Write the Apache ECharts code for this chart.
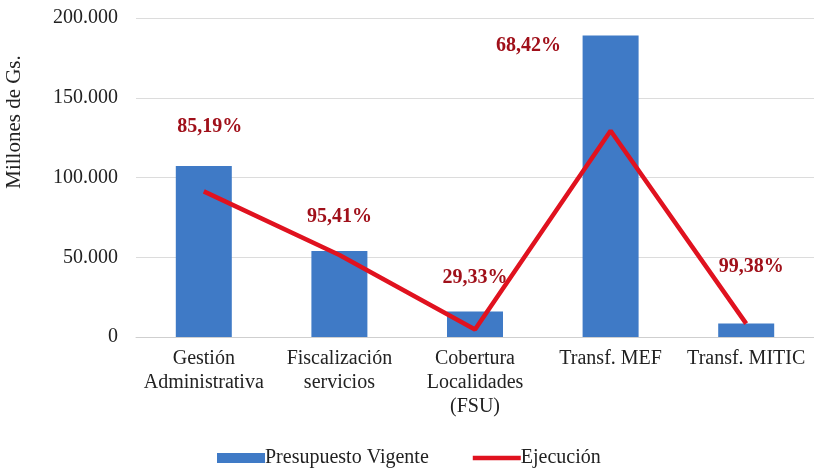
<!DOCTYPE html>
<html>
<head>
<meta charset="utf-8">
<script src="https://cdn.jsdelivr.net/npm/echarts@6/dist/echarts.min.js"></script>
<style>
  html, body { margin: 0; padding: 0; background: #fff; }
  #chart { width: 814px; height: 475px; }
</style>
</head>
<body>
<div id="chart"></div>
<script>
// categorias y valores (millones de Gs.)
var categorias = ['Gestión\nAdministrativa', 'Fiscalización\nservicios', 'Cobertura\nLocalidades\n(FSU)', 'Transf. MEF', 'Transf. MITIC'];
var presupuesto = [107200, 53900, 16000, 189000, 8500];
var ejecucion = [91300, 51400, 4700, 129300, 8400];
var porcentajes = ['85,19%', '95,41%', '29,33%', '68,42%', '99,38%'];
var ticksY = [0, 50000, 100000, 150000, 200000];

// desplazamiento de cada etiqueta respecto al punto de la linea
var desplazamientos = [[6, -65], [0, -38], [0, -52], [-82, -85], [5, -57]];

var fuente = 'Liberation Serif';

var myChart = echarts.init(document.getElementById('chart'));

// etiquetas de porcentaje, ancladas a los puntos de ejecucion
var datosEtiquetas = ejecucion.map(function (v, i) {
    return {
        value: v,
        label: { offset: desplazamientos[i], formatter: porcentajes[i] }
    };
});

var option = {
    animation: false,
    grid: { left: 136, top: 18, width: 680, height: 319 },
    graphic: [{
        type: 'text',
        x: 14,
        y: 122,
        rotation: Math.PI / 2,
        style: {
            text: 'Millones de Gs.',
            font: '21px "Liberation Serif"',
            fill: '#222',
            align: 'center',
            verticalAlign: 'middle'
        }
    }],
    legend: {
        bottom: 2,
        left: 212,
        itemGap: 44,
        itemWidth: 48,
        itemHeight: 10,
        symbolKeepAspect: true,
        textStyle: { fontFamily: fuente, fontSize: 20, color: '#222', padding: [0, 0, 0, -5] },
        data: [
            { name: 'Presupuesto Vigente', icon: 'rect' },
            { name: 'Ejecución', icon: 'path://M0,0H48V4.5H0Z' }
        ]
    },
    xAxis: {
        type: 'category',
        data: categorias,
        axisTick: { show: false },
        axisLine: { lineStyle: { color: '#cfcfcf', width: 1 } },
        axisLabel: {
            fontFamily: fuente,
            fontSize: 20,
            color: '#222',
            lineHeight: 24,
            margin: 10,
            interval: 0
        }
    },
    yAxis: {
        type: 'value',
        min: 0,
        max: 200000,
        interval: 50000,
        axisLine: { show: false },
        axisTick: { show: false },
        splitLine: { lineStyle: { color: '#dcdcdc', width: 1 } },
        axisLabel: {
            fontFamily: fuente,
            fontSize: 20,
            color: '#222',
            margin: 18,
            formatter: function (v) {
                if (ticksY.indexOf(v) < 0) return '';
                return v === 0 ? '0' : (v / 1000).toFixed(0) + '.000';
            }
        }
    },
    series: [
        {
            name: 'Presupuesto Vigente',
            type: 'bar',
            barWidth: 56,
            data: presupuesto,
            itemStyle: { color: '#3f7ac6' }
        },
        {
            name: 'Ejecución',
            type: 'line',
            data: ejecucion,
            symbol: 'none',
            lineStyle: { color: '#e0121f', width: 4.5 },
            itemStyle: { color: '#e0121f' }
        },
        {
            name: 'etiquetas',
            type: 'scatter',
            data: datosEtiquetas,
            symbolSize: 1,
            itemStyle: { color: 'rgba(0,0,0,0)' },
            silent: true,
            label: {
                show: true,
                position: 'inside',
                fontFamily: fuente,
                fontSize: 20,
                fontWeight: 'bold',
                color: '#a0101a',
                opacity: 1
            }
        }
    ]
};

myChart.setOption(option);
</script>
</body>
</html>
